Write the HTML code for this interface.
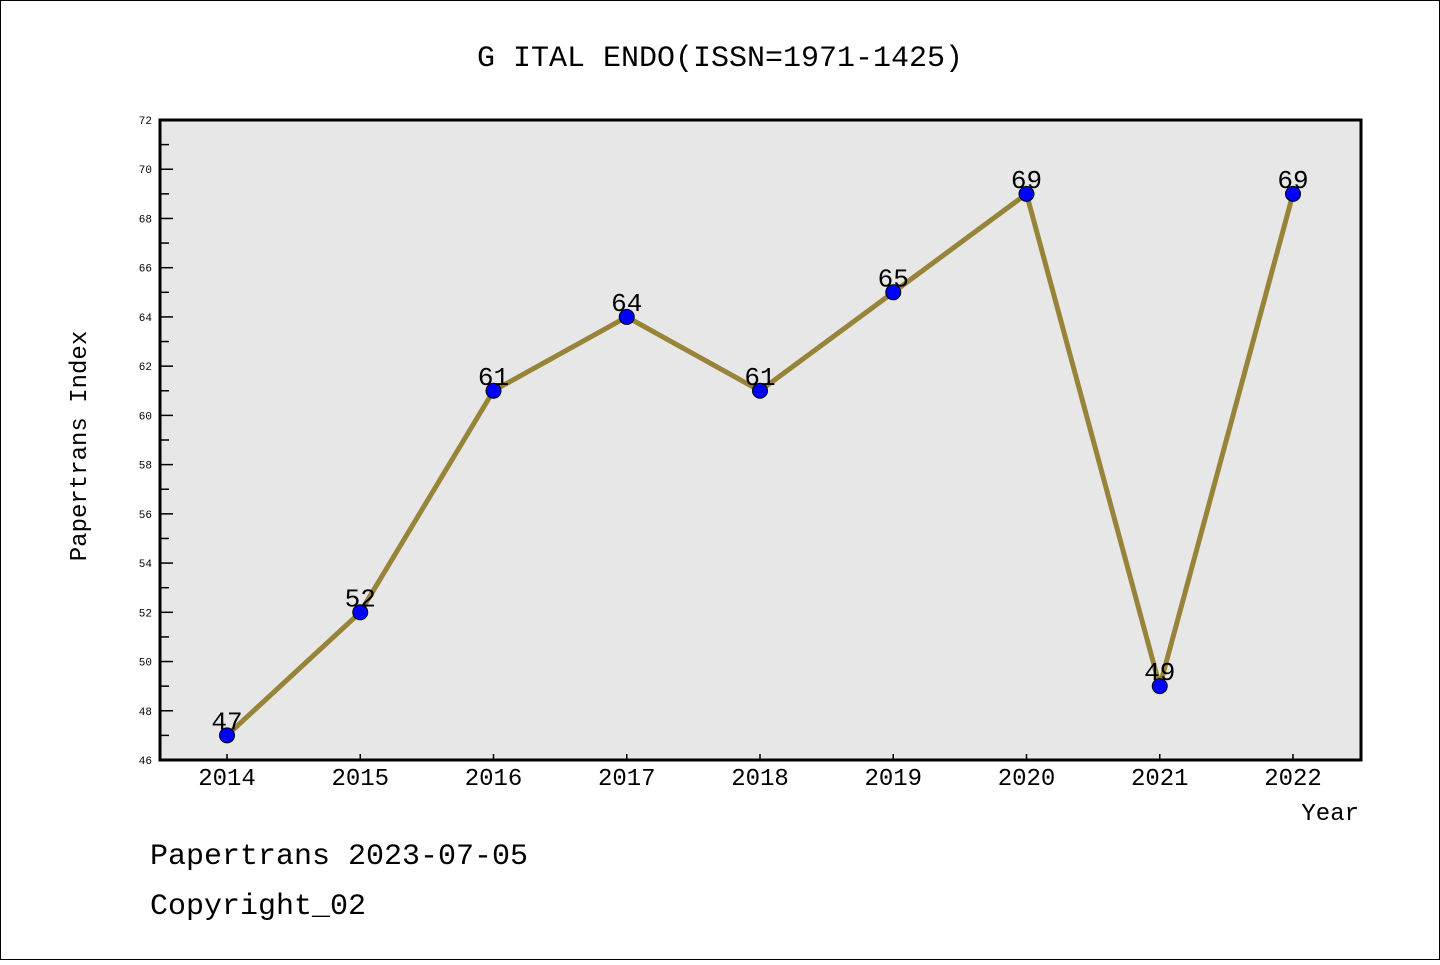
<!DOCTYPE html>
<html><head><meta charset="utf-8"><style>
body{margin:0;background:#fff;}
svg text{font-family:"Liberation Mono","DejaVu Sans Mono",monospace;}
</style></head><body>
<svg width="1440" height="960" viewBox="0 0 1440 960" xmlns="http://www.w3.org/2000/svg">
<rect x="0.5" y="0.5" width="1439" height="959" fill="#fff" stroke="#000" stroke-width="1"/>
<text x="720" y="66" text-anchor="middle" font-size="30">G ITAL ENDO(ISSN=1971-1425)</text>
<rect x="160" y="120" width="1201" height="640" fill="#e7e7e7"/>
<g id="yaxis"></g>
<g id="xaxis"></g>
<g id="series"></g>
<rect x="160" y="120" width="1201" height="640" fill="none" stroke="#000" stroke-width="3"/>
<text x="86" y="446" text-anchor="middle" font-size="24" transform="rotate(-90 86 446)">Papertrans Index</text>
<text x="1359" y="820" text-anchor="end" font-size="24">Year</text>
<text x="150" y="864" font-size="30">Papertrans 2023-07-05</text>
<text x="150" y="914" font-size="30">Copyright_02</text>
<script>
var years=["2014","2015","2016","2017","2018","2019","2020","2021","2022"];
var values=[47,52,61,64,61,65,69,49,69];
var yTicks=[46,48,50,52,54,56,58,60,62,64,66,68,70,72];
var NS="http://www.w3.org/2000/svg";
function X(i){return 227+i*(1293-227)/(years.length-1);}
function Y(v){return 760-(v-46)*(640/26);}
function mk(t,a,p){var e=document.createElementNS(NS,t);for(var k in a)e.setAttribute(k,a[k]);p.appendChild(e);return e;}
var ya=document.getElementById('yaxis'),xa=document.getElementById('xaxis'),se=document.getElementById('series');
for(var v=46;v<=72;v++){
 var major=(v%2===0);
 var l=mk('line',{x1:160,x2:160+(major?13:9),y1:Y(v),y2:Y(v),stroke:'#000','stroke-width':1.5},ya);
 
 
}
yTicks.forEach(function(t){
 var e=mk('text',{x:152,y:Y(t)+4,'text-anchor':'end','font-size':11},ya);e.textContent=t;
 
 
});
years.forEach(function(y,i){
 var l=mk('line',{x1:X(i),x2:X(i),y1:760,y2:754,stroke:'#000','stroke-width':1.5},xa);
 
 
 var e=mk('text',{x:X(i),y:785,'text-anchor':'middle','font-size':24},xa);e.textContent=y;
 
 
});
var pts=values.map(function(v,i){return X(i)+','+Y(v);}).join(' ');
var pl=mk('polyline',{points:pts,fill:'none',stroke:'#978438','stroke-width':5,'stroke-linejoin':'round'},se);


values.forEach(function(v,i){
 var c=mk('circle',{cx:X(i),cy:Y(v),r:7.5,fill:'#0000ff',stroke:'#000','stroke-width':1},se);
 
 
 var t=mk('text',{x:X(i),y:Y(v)-6,'text-anchor':'middle','font-size':26,'font-family':'Liberation Sans, sans-serif'},se);t.textContent=v;
 
 
});
</script>
</svg>
</body></html>
